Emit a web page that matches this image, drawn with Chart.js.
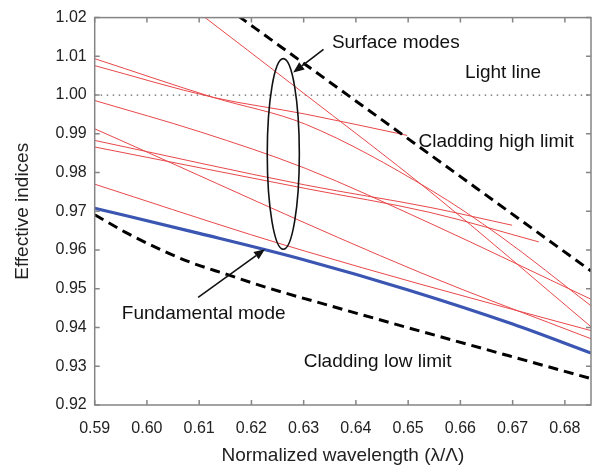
<!DOCTYPE html>
<html>
<head>
<meta charset="utf-8">
<script src="https://cdn.jsdelivr.net/npm/chart.js@4.4.0/dist/chart.umd.min.js"></script>
<style>
  html, body { margin: 0; padding: 0; background: #fff; }
  #wrap { width: 607px; height: 473px; }
</style>
</head>
<body>
<div id="wrap"><canvas id="chart" width="607" height="473"></canvas></div>
<script>
// axis ticks
const xTicks = [0.59, 0.60, 0.61, 0.62, 0.63, 0.64, 0.65, 0.66, 0.67, 0.68];
const yTicks = [0.92, 0.93, 0.94, 0.95, 0.96, 0.97, 0.98, 0.99, 1.00, 1.01, 1.02];

// curves, [normalized wavelength, effective index]
const lightLine = [[0.590, 1.000], [0.685, 1.000]];
const claddingHigh = [[0.6175, 1.0204], [0.685, 0.9546]];
const claddingLow = [[0.590, 0.9691], [0.596, 0.9645], [0.602, 0.9605], [0.608, 0.9570],
                     [0.6153, 0.9537], [0.623, 0.9503], [0.6351, 0.9456], [0.685, 0.9268]];
const fundamental = [[0.590, 0.9708], [0.610, 0.9643], [0.630, 0.9575], [0.650, 0.9497],
                     [0.670, 0.9409], [0.685, 0.9334]];

// surface modes
const modeA = [[0.590, 1.0094], [0.6127, 0.9994], [0.6303, 0.9925], [0.6542, 0.9756], [0.6676, 0.9636], [0.685, 0.9456]];
const modeB = [[0.590, 1.0076], [0.6127, 0.9994], [0.6303, 0.9951], [0.6498, 0.9896]];
const modeC = [[0.590, 0.9986], [0.6102, 0.9905], [0.6303, 0.9811], [0.6542, 0.9669], [0.685, 0.9473]];
const modeD = [[0.590, 0.9913], [0.6523, 0.9542], [0.685, 0.9371]];
const modeE = [[0.590, 0.9883], [0.6303, 0.9768], [0.6542, 0.9710], [0.6699, 0.9664]];
const modeF = [[0.590, 0.9866], [0.6303, 0.9759], [0.6542, 0.9697], [0.6750, 0.9621]];
const modeG = [[0.590, 0.9770], [0.6198, 0.9640], [0.6303, 0.9597], [0.6523, 0.9512], [0.685, 0.9392]];
const modeH = [[0.6092, 1.0220], [0.6293, 1.0012], [0.6542, 0.9751], [0.685, 0.9402]];
const surfaceModes = [modeA, modeB, modeC, modeD, modeE, modeF, modeG, modeH];

// annotations (data coordinates)
const labels = [
    { text: 'Surface modes', x: 0.6354, y: 1.0122 },
    { text: 'Light line', x: 0.6609, y: 1.0045 },
    { text: 'Cladding high limit', x: 0.6520, y: 0.9866 },
    { text: 'Fundamental mode', x: 0.5952, y: 0.9423 },
    { text: 'Cladding low limit', x: 0.6300, y: 0.9297 }
];
const arrows = [
    { from: [0.6338, 1.0118], to: [0.6280, 1.0058] },
    { from: [0.6098, 0.9478], to: [0.6226, 0.9602] }
];
const ellipse = { x: 0.6261, y: 0.9848, rx: 0.00307, ry: 0.0246 };

const FONT = "'Liberation Sans', Arial, Helvetica, sans-serif";
const toPoints = arr => arr.map(p => ({ x: p[0], y: p[1] }));

const datasets = [
    { data: toPoints(fundamental), borderColor: '#3a56b2', borderWidth: 3.2, order: 1 },
    { data: toPoints(claddingHigh), borderColor: '#000', borderWidth: 3, borderDash: [10, 6], order: 0 },
    { data: toPoints(claddingLow), borderColor: '#000', borderWidth: 3, borderDash: [10, 6], order: 0 },
    { data: toPoints(lightLine), borderColor: '#666', borderWidth: 1.3, borderDash: [1.5, 4.5], order: 3 }
];
surfaceModes.forEach(m => {
    datasets.push({ data: toPoints(m), borderColor: '#e8484a', borderWidth: 1, order: 2 });
});
datasets.forEach(d => {
    d.showLine = true;
    d.pointRadius = 0;
    d.fill = false;
    d.cubicInterpolationMode = 'monotone';
    d.clip = 0;
});

// Frame with inward tick marks
const framePlugin = {
    id: 'frame',
    afterDatasetsDraw(chart) {
        const { ctx, chartArea: a, scales: { x, y } } = chart;
        ctx.save();
        ctx.strokeStyle = '#858585';
        ctx.lineWidth = 1.5;
        ctx.strokeRect(a.left, a.top, a.right - a.left, a.bottom - a.top);
        ctx.beginPath();
        xTicks.forEach(v => {
            const px = x.getPixelForValue(v);
            ctx.moveTo(px, a.bottom); ctx.lineTo(px, a.bottom - 5);
            ctx.moveTo(px, a.top); ctx.lineTo(px, a.top + 5);
        });
        yTicks.forEach(v => {
            const py = y.getPixelForValue(v);
            ctx.moveTo(a.left, py); ctx.lineTo(a.left + 5, py);
            ctx.moveTo(a.right, py); ctx.lineTo(a.right - 5, py);
        });
        ctx.stroke();
        ctx.restore();
    }
};

// Text labels, ellipse and arrows
const annotationPlugin = {
    id: 'notes',
    afterDraw(chart) {
        const { ctx, scales: { x, y } } = chart;
        ctx.save();
        ctx.fillStyle = '#111';
        ctx.font = '19px ' + FONT;
        ctx.textBaseline = 'alphabetic';
        ctx.textAlign = 'left';
        labels.forEach(l => ctx.fillText(l.text, x.getPixelForValue(l.x), y.getPixelForValue(l.y)));

        // ellipse round the surface modes
        const cx = x.getPixelForValue(ellipse.x), cy = y.getPixelForValue(ellipse.y);
        const rx = x.getPixelForValue(ellipse.x + ellipse.rx) - cx;
        const ry = cy - y.getPixelForValue(ellipse.y + ellipse.ry);
        ctx.strokeStyle = '#111';
        ctx.lineWidth = 1.6;
        ctx.beginPath();
        ctx.ellipse(cx, cy, rx, ry, 0, 0, Math.PI * 2);
        ctx.stroke();

        arrows.forEach(ar => {
            const x0 = x.getPixelForValue(ar.from[0]), y0 = y.getPixelForValue(ar.from[1]);
            const x1 = x.getPixelForValue(ar.to[0]), y1 = y.getPixelForValue(ar.to[1]);
            const ang = Math.atan2(y1 - y0, x1 - x0);
            const len = 11, hw = 4.5;
            const bx = x1 - len * Math.cos(ang), by = y1 - len * Math.sin(ang);
            ctx.lineWidth = 1.6;
            ctx.beginPath();
            ctx.moveTo(x0, y0);
            ctx.lineTo(bx, by);
            ctx.stroke();
            ctx.beginPath();
            ctx.moveTo(x1, y1);
            ctx.lineTo(bx + hw * Math.sin(ang), by - hw * Math.cos(ang));
            ctx.lineTo(bx - hw * Math.sin(ang), by + hw * Math.cos(ang));
            ctx.closePath();
            ctx.fillStyle = '#111';
            ctx.fill();
        });
        ctx.restore();
    }
};

new Chart(document.getElementById('chart').getContext('2d'), {
    type: 'scatter',
    data: { datasets: datasets },
    options: {
        responsive: false,
        animation: false,
        layout: { padding: { left: 0, right: 16, top: 14.7, bottom: 0 } },
        plugins: {
            legend: { display: false },
            tooltip: { enabled: false }
        },
        scales: {
            x: {
                type: 'linear',
                min: 0.59,
                max: 0.685,
                afterBuildTicks: scale => { scale.ticks = xTicks.map(v => ({ value: v })); },
                afterFit: scale => { scale.height = 68; },
                grid: { display: false, drawTicks: false },
                border: { display: false },
                ticks: {
                    autoSkip: false,
                    maxRotation: 0,
                    padding: 14,
                    color: '#222',
                    font: { family: FONT, size: 16 },
                    callback: v => v.toFixed(2)
                },
                title: {
                    display: true,
                    text: 'Normalized wavelength (λ/Λ)',
                    color: '#222',
                    font: { family: FONT, size: 19 },
                    padding: { top: 0, bottom: 6 }
                }
            },
            y: {
                type: 'linear',
                min: 0.92,
                max: 1.02,
                afterBuildTicks: scale => { scale.ticks = yTicks.map(v => ({ value: v })); },
                afterFit: scale => { scale.width = 94.7; },
                grid: { display: false, drawTicks: false },
                border: { display: false },
                ticks: {
                    autoSkip: false,
                    padding: 8,
                    color: '#222',
                    font: { family: FONT, size: 16 },
                    callback: v => v.toFixed(2)
                },
                title: {
                    display: true,
                    text: 'Effective indices',
                    color: '#222',
                    font: { family: FONT, size: 19 },
                    padding: { top: 11, bottom: 0 }
                }
            }
        }
    },
    plugins: [framePlugin, annotationPlugin]
});
</script>
</body>
</html>
